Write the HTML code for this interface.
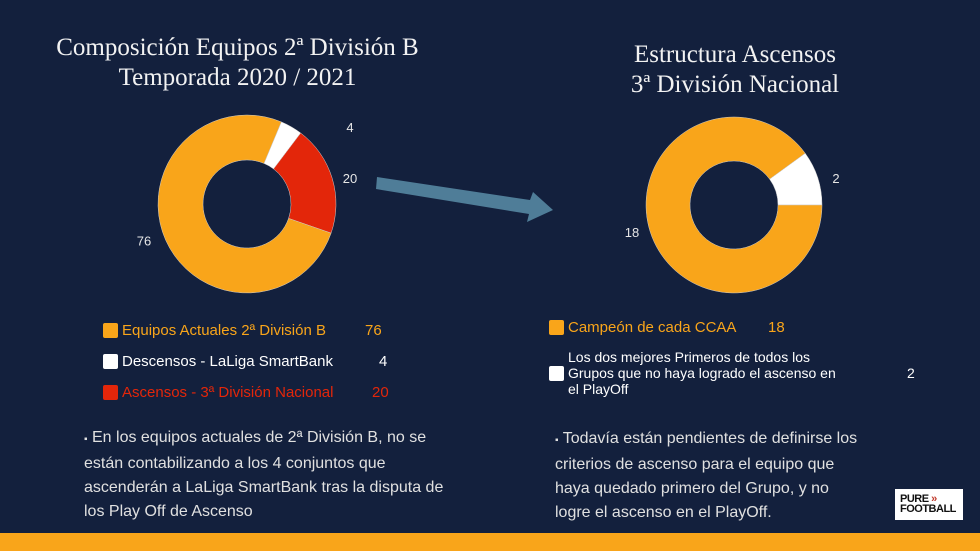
<!DOCTYPE html>
<html><head><meta charset="utf-8"><style>
body{margin:0;width:980px;height:551px;overflow:hidden;background:#13203d;position:relative;font-family:"Liberation Sans",sans-serif}
.t{position:absolute;color:#f2f2f2;font-family:"Liberation Serif",serif;font-size:25px;text-align:center;line-height:30px}
.lg{position:absolute;font-size:15px;display:flex;align-items:center}
.sw{width:15px;height:15px;border-radius:2px;margin-right:4px;display:inline-block;flex:none}
.note{position:absolute;color:#e0e0e0;font-size:16px;line-height:24px}
</style></head><body>
<div class="t" style="left:30px;top:33px;width:415px">Composición Equipos 2ª División B<br>Temporada 2020 / 2021</div>
<div class="t" style="left:590px;top:40px;width:290px">Estructura Ascensos<br>3ª División Nacional</div>
<svg id="chart" width="980" height="551" style="position:absolute;left:0;top:0">
<polygon points="377,177 530,200 533,192 553,210 527,222 529,214 376,189" fill="#4f7d98"/>
</svg>
<div class="lg" style="left:103px;top:322px;color:#f9a51a"><span class="sw" style="background:#f9a51a"></span>Equipos Actuales 2ª División B<span style="position:absolute;left:262px">76</span></div>
<div class="lg" style="left:103px;top:353px;color:#fff"><span class="sw" style="background:#fff"></span>Descensos - LaLiga SmartBank<span style="position:absolute;left:276px">4</span></div>
<div class="lg" style="left:103px;top:384px;color:#e3260a"><span class="sw" style="background:#e3260a"></span>Ascensos - 3ª División Nacional<span style="position:absolute;left:269px">20</span></div>
<div class="lg" style="left:549px;top:319px;color:#f9a51a"><span class="sw" style="background:#f9a51a"></span>Campeón de cada CCAA<span style="position:absolute;left:219px">18</span></div>
<div class="lg" style="left:549px;top:349px;color:#fff;font-size:14px;line-height:16px"><span class="sw" style="background:#fff"></span><span style="width:282px">Los dos mejores Primeros de todos los Grupos que no haya logrado el ascenso en el PlayOff</span><span style="position:absolute;left:358px">2</span></div>
<div class="note" style="left:84px;top:426px;width:370px"><span style="font-size:10px">▪</span> En los equipos actuales de 2ª División B, no se están contabilizando a los 4 conjuntos que ascenderán a LaLiga SmartBank tras la disputa de los Play Off de Ascenso</div>
<div class="note" style="left:555px;top:427px;width:310px"><span style="font-size:10px">▪</span> Todavía están pendientes de definirse los criterios de ascenso para el equipo que haya quedado primero del Grupo, y no logre el ascenso en el PlayOff.</div>
<div style="position:absolute;left:895px;top:489px;width:68px;height:31px;background:#fff;font-weight:bold;font-size:11px;line-height:10px;color:#111;padding:5px 0 0 5px;box-sizing:border-box;letter-spacing:-0.5px;overflow:hidden">PURE <span style="color:#c0392b">»</span><br>FOOTBALL</div>
<div style="position:absolute;left:0;top:533px;width:980px;height:18px;background:#f9a51a"></div>
<script>
const leftCats=["Descensos","Ascensos","Actuales"];
const leftVals=[4,20,76];
const leftColors=["#ffffff","#e3260a","#f9a51a"];
const rightCats=["Mejores","Campeon"];
const rightVals=[2,18];
const rightColors=["#ffffff","#f9a51a"];
const svg=document.getElementById('chart');
const NS="http://www.w3.org/2000/svg";
function pt(cx,cy,r,a){const t=a*Math.PI/180;return [cx+r*Math.sin(t),cy-r*Math.cos(t)];}
function donut(cx,cy,R,r,start,vals,cols,cats,prefix){
  const tot=vals.reduce((a,b)=>a+b,0);let a0=start;
  vals.forEach((v,i)=>{
    const a1=a0+v/tot*360;const big=(a1-a0)>180?1:0;
    const p1=pt(cx,cy,R,a0),p2=pt(cx,cy,R,a1),p3=pt(cx,cy,r,a1),p4=pt(cx,cy,r,a0);
    const p=document.createElementNS(NS,'path');
    p.setAttribute('d',`M${p1}A${R},${R} 0 ${big} 1 ${p2}L${p3}A${r},${r} 0 ${big} 0 ${p4}Z`);
    p.setAttribute('fill',cols[i]);p.setAttribute('stroke','#ccc');p.setAttribute('stroke-width','0.5');
    
    
    svg.appendChild(p);
    const m=(a0+a1)/2;const lp=pt(cx,cy,R,m);
    const side=Math.sin(m*Math.PI/180)>=0?1:-1;
    const t=document.createElementNS(NS,'text');
    t.setAttribute('x',cx+side*(R+14));t.setAttribute('y',lp[1]+5);t.setAttribute('fill','#e6e6e6');
    t.setAttribute('font-size','13');t.setAttribute('text-anchor','middle');t.setAttribute('font-family','Liberation Sans,sans-serif');
    t.textContent=v;
    
    
    svg.appendChild(t);
    a0=a1;
  });
}
donut(247,204,89,44,22.7,leftVals,leftColors,leftCats,'left');
donut(734,205,88,44,54,rightVals,rightColors,rightCats,'right');
</script>
</body></html>
